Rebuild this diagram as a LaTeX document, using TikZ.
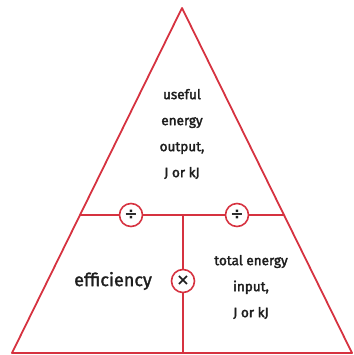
\documentclass[tikz,border=0pt]{standalone}
\usepackage{fontspec}
\setmainfont{Fira Sans}
\newfontfamily\medfont{Fira Sans}[FakeBold=1.6]
\newfontfamily\semifont{Fira Sans}[FakeBold=2.4]
\newfontfamily\symfont{DejaVu Sans}
\usepackage{xcolor}
\usepackage{tikz}
\usetikzlibrary{positioning,calc}
\definecolor{tri}{RGB}{214,50,64}
\definecolor{ink}{RGB}{30,30,30}

\begin{document}
\begin{tikzpicture}[x=1pt,y=-1pt,line width=1.8pt,
  op/.style={draw=tri,fill=white,circle,inner sep=0pt,minimum size=23pt,line width=1.6pt,text=ink,font=\symfont\bfseries\fontsize{16}{16}\selectfont},
  lab/.style={align=center,text=ink,font=\semifont\fontsize{13.5}{26}\selectfont}]
\useasboundingbox (0,0) rectangle (353,355);
\coordinate (top) at (182,8);
\coordinate (bl) at (12,353);
\coordinate (br) at (352,353);
\coordinate (ml) at (80,215);
\coordinate (mr) at (284,215);
\coordinate (mc) at (183,215);
\coordinate (bc) at (183,353);
\draw[tri,line join=round] (top)--(br)--(bl)--cycle;
\draw[tri] (ml)--(mr);
\draw[tri] (mc)--(bc);
\node[op] (divl) at (131,215) {÷};
\node[op] (divr) at (237,215) {÷};
\node[op] (mul) at (183,281) {×};
\node[lab] (out) at (182,134) {useful\\energy\\output,\\J or kJ};
\node[lab,font=\medfont\fontsize{18}{20}\selectfont] (eff) at (113,281) {efficiency};
\node[lab] (in) at (251,287) {total energy\\input,\\J or kJ};
\end{tikzpicture}
\end{document}
